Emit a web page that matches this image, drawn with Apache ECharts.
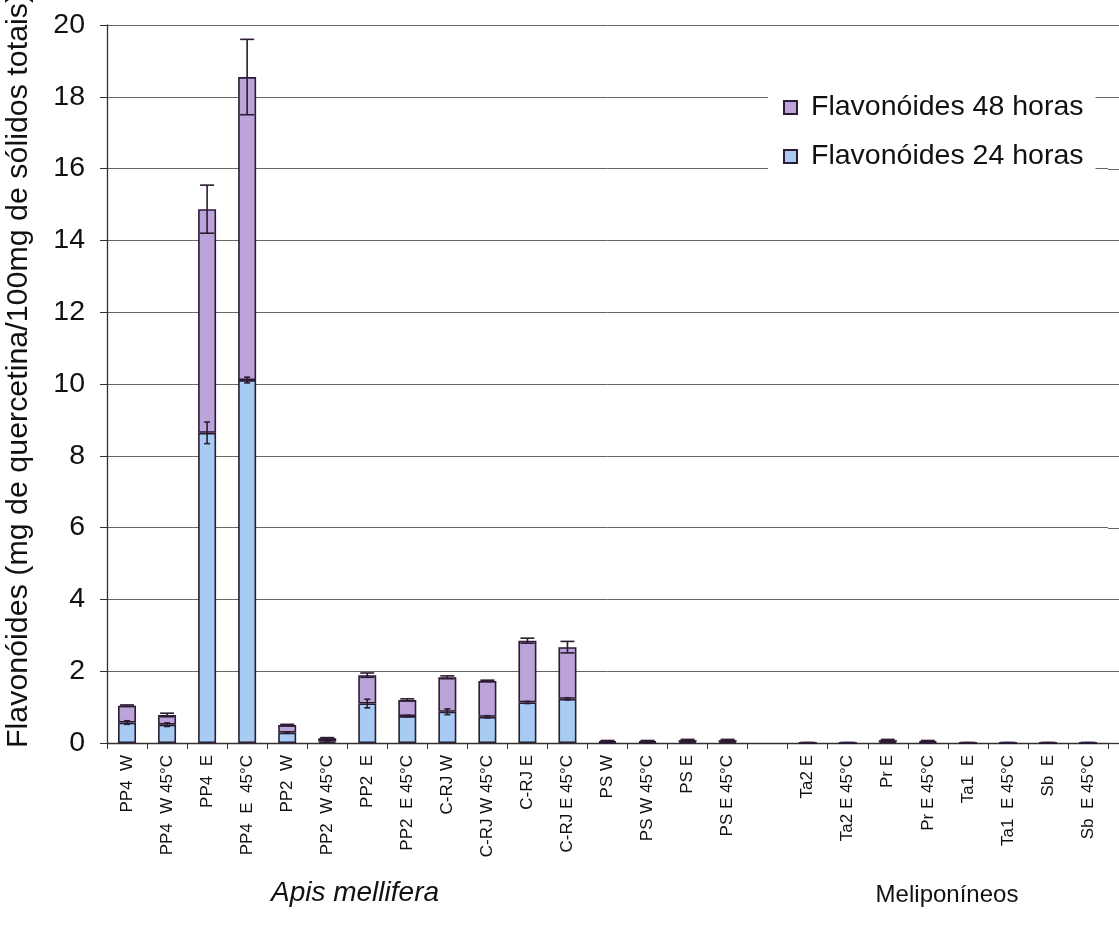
<!DOCTYPE html>
<html>
<head>
<meta charset="utf-8">
<script src="https://cdn.jsdelivr.net/npm/echarts@6/dist/echarts.min.js"></script>
<style>
  html, body { margin: 0; padding: 0; background: #fff; }
  #chart { width: 1119px; height: 932px; }
</style>
</head>
<body>
<div id="chart"></div>
<script>
// Sample names (one empty slot separates the two bee groups)
const categories = [
  'PP4  W', 'PP4  W 45°C', 'PP4  E', 'PP4  E  45°C',
  'PP2  W', 'PP2  W 45°C', 'PP2  E', 'PP2  E 45°C',
  'C-RJ W', 'C-RJ W 45°C', 'C-RJ E', 'C-RJ E 45°C',
  'PS W', 'PS W 45°C', 'PS E', 'PS E 45°C',
  '',
  'Ta2 E', 'Ta2 E 45°C', 'Pr E', 'Pr E 45°C',
  'Ta1  E', 'Ta1  E 45°C', 'Sb  E', 'Sb  E 45°C'
];

// Flavonoid content extracted in 24 h (bottom segment)
const flav24 = [0.57, 0.51, 8.64, 10.11, 0.29, 0.04, 1.10, 0.75, 0.87, 0.73, 1.13, 1.23,
                0.02, 0.02, 0.03, 0.03, null, 0.005, 0.005, 0.03, 0.02, 0.005, 0.005, 0.005, 0.005];
// Additional flavonoid content at 48 h (stacked on top)
const flav48 = [0.47, 0.27, 6.23, 8.44, 0.21, 0.09, 0.79, 0.45, 0.96, 1.00, 1.72, 1.44,
                0.03, 0.03, 0.05, 0.05, null, 0.005, 0.005, 0.05, 0.03, 0.005, 0.005, 0.005, 0.005];
// Standard deviations
const err24 = [0.05, 0.05, 0.30, 0.08, 0.02, 0.02, 0.12, 0.02, 0.08, 0.03, 0.03, 0.03,
               0.01, 0.01, 0.01, 0.01, null, 0.005, 0.005, 0.01, 0.01, 0.005, 0.005, 0.005, 0.005];
const err48 = [0.02, 0.05, 0.67, 1.05, 0.02, 0.02, 0.06, 0.03, 0.04, 0.02, 0.07, 0.16,
               0.02, 0.02, 0.02, 0.02, null, 0.005, 0.005, 0.02, 0.02, 0.005, 0.005, 0.005, 0.005];

const yTicks = { min: 0, max: 20, interval: 2 };

const name24 = 'Flavonóides 24 horas';
const name48 = 'Flavonóides 48 horas';
const yTitle = 'Flavonóides (mg de quercetina/100mg de sólidos totais)';
const groupA = 'Apis mellifera';
const groupB = 'Meliponíneos';

const FONT = '"Liberation Sans", Arial, Helvetica, sans-serif';
const INK = '#111';
const EDGE = '#2b1b33';
const GRID_COLOR = '#666';
const AXIS_COLOR = '#333';

// error bar data: [category index, segment top, deviation]
const errData24 = [], errData48 = [];
categories.forEach((c, i) => {
  if (flav24[i] == null) return;
  errData24.push([i, flav24[i], err24[i]]);
  errData48.push([i, flav24[i] + flav48[i], err48[i]]);
});

function errorRenderer(half) {
  return function (params, api) {
    const i = api.value(0), c = api.value(1), e = api.value(2);
    const hi = api.coord([i, c + e]);
    const lo = api.coord([i, c - e]);
    const st = { stroke: EDGE, lineWidth: 1.6 };
    return {
      type: 'group',
      children: [
        { type: 'line', shape: { x1: hi[0], y1: hi[1], x2: lo[0], y2: lo[1] }, style: st },
        { type: 'line', shape: { x1: hi[0] - half, y1: hi[1], x2: hi[0] + half, y2: hi[1] }, style: st },
        { type: 'line', shape: { x1: lo[0] - half, y1: lo[1], x2: lo[0] + half, y2: lo[1] }, style: st }
      ]
    };
  };
}

const chart = echarts.init(document.getElementById('chart'), null, { renderer: 'canvas' });

const baseGraphics = [
  {
    type: 'text',
    x: 4,
    y: 748,
    rotation: Math.PI / 2,
    style: {
      text: yTitle,
      font: '30.4px ' + FONT,
      fill: INK,
      textAlign: 'left',
      textVerticalAlign: 'top'
    }
  },
  {
    type: 'text',
    x: 355,
    y: 893,
    style: {
      text: groupA,
      font: 'italic 28px ' + FONT,
      fill: INK,
      textAlign: 'center',
      textVerticalAlign: 'middle'
    }
  },
  {
    type: 'text',
    x: 947,
    y: 895,
    style: {
      text: groupB,
      font: '24px ' + FONT,
      fill: INK,
      textAlign: 'center',
      textVerticalAlign: 'middle'
    }
  }
];

chart.setOption({
  animation: false,
  backgroundColor: '#fff',
  textStyle: { fontFamily: FONT, color: INK },
  grid: { left: 107, right: 11, top: 25, bottom: 189, containLabel: false },
  legend: {
    data: [name48, name24],
    orient: 'vertical',
    left: 768,
    top: 79,
    backgroundColor: '#fff',
    padding: [14, 12, 16, 15],
    itemGap: 20,
    itemWidth: 13,
    itemHeight: 13,
    icon: 'rect',
    z: 10,
    textStyle: { fontFamily: FONT, fontSize: 28.5, color: INK, padding: [0, 0, 0, 9] }
  },
  xAxis: {
    type: 'category',
    data: categories,
    axisLine: { lineStyle: { color: AXIS_COLOR, width: 1.3 } },
    axisTick: { show: true, interval: 0, length: 6, lineStyle: { color: AXIS_COLOR } },
    axisLabel: { interval: 0, rotate: 90, fontSize: 17, color: INK, margin: 12, fontFamily: FONT },
    splitLine: { show: false }
  },
  yAxis: {
    type: 'value',
    min: yTicks.min,
    max: yTicks.max,
    interval: yTicks.interval,
    axisLine: { show: true, lineStyle: { color: AXIS_COLOR, width: 1.3 } },
    axisTick: { show: true, length: 7, lineStyle: { color: AXIS_COLOR } },
    axisLabel: { fontSize: 28.5, color: INK, margin: 22, fontFamily: FONT },
    splitLine: { show: true, lineStyle: { color: GRID_COLOR, width: 1 } }
  },
  series: [
    {
      name: name24,
      type: 'bar',
      stack: 'flav',
      barWidth: 18,
      data: flav24,
      itemStyle: { color: '#a8cbf2', borderColor: EDGE, borderWidth: 1.6 }
    },
    {
      name: name48,
      type: 'bar',
      stack: 'flav',
      barWidth: 18,
      data: flav48,
      itemStyle: { color: '#bca3d9', borderColor: EDGE, borderWidth: 1.6 }
    },
    {
      type: 'custom',
      renderItem: errorRenderer(3),
      data: errData24,
      encode: { x: 0, y: 1 },
      z: 5,
      silent: true
    },
    {
      type: 'custom',
      renderItem: errorRenderer(7),
      data: errData48,
      encode: { x: 0, y: 1 },
      z: 5,
      silent: true
    }
  ],
  graphic: baseGraphics
});

// The plot area continues past the right page edge: carry the grid lines
// and the category axis line on to the border of the canvas.
const edgeX = chart.getWidth();
const lastX = chart.convertToPixel({ gridIndex: 0 }, [categories.length - 1, 0])[0];
const axisEndX = lastX + (lastX - chart.convertToPixel({ gridIndex: 0 }, [categories.length - 2, 0])[0]) / 2;
const extras = [];
for (let v = yTicks.min; v <= yTicks.max; v += yTicks.interval) {
  const py = chart.convertToPixel({ yAxisIndex: 0 }, v);
  extras.push({
    type: 'line',
    z: 0,
    shape: { x1: axisEndX, y1: Math.round(py) + 0.5, x2: edgeX, y2: Math.round(py) + 0.5 },
    style: { stroke: v === yTicks.min ? AXIS_COLOR : GRID_COLOR, lineWidth: v === yTicks.min ? 1.3 : 1 }
  });
}
chart.setOption({ graphic: baseGraphics.concat(extras) });
</script>
</body>
</html>
